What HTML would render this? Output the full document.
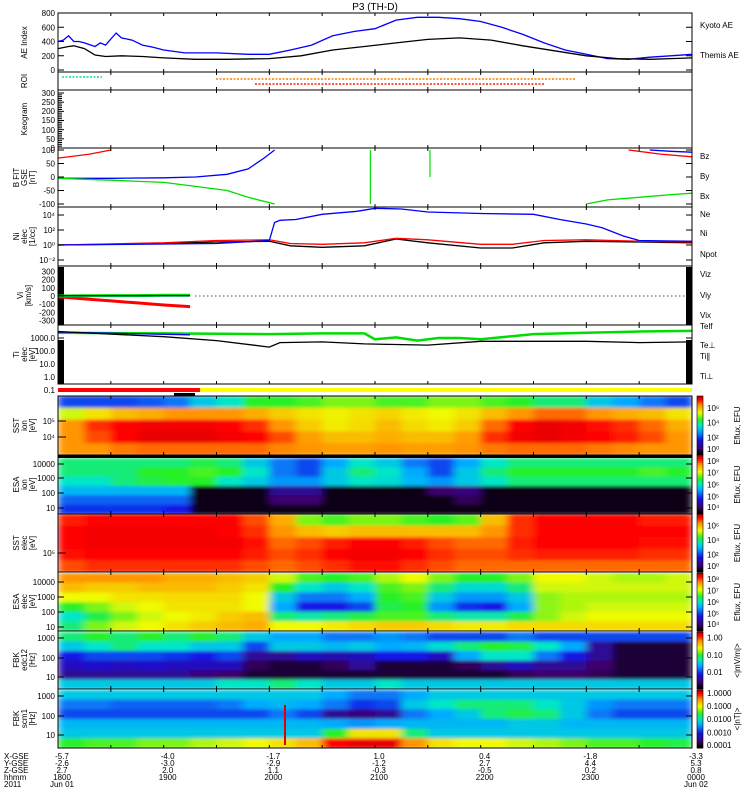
<!DOCTYPE html>
<html><head><meta charset="utf-8">
<style>
html,body{margin:0;padding:0;background:#fff;}
svg{display:block;font-family:"Liberation Sans",sans-serif;}
text{font-size:8px;fill:#000;}
</style></head>
<body>
<svg id="chart" width="750" height="800" viewBox="0 0 750 800" xmlns="http://www.w3.org/2000/svg">
<defs><filter id="blur" x="-5%" y="-5%" width="110%" height="110%"><feGaussianBlur stdDeviation="4 1.5" edgeMode="duplicate"/></filter></defs>
<text x="375" y="10" text-anchor="middle" style="font-size:10px">P3 (TH-D)</text>
</svg>
<script>
// ---------- data ----------
const aeKyotoT=[0,.05,.1,.15,.2,.25,.35,.4,.45,.55,.6,.7,.8,.9,1.0,1.2,1.5,1.8,2.0,2.2,2.4,2.6,2.8,3.0,3.2,3.4,3.6,3.8,4.0,4.2,4.4,4.6,4.8,5.0,5.2,5.4,5.6,5.8,6.0];
const aeKyotoV=[400,420,480,400,400,380,330,380,350,520,450,420,350,320,280,240,240,220,220,280,350,480,540,580,700,740,740,720,680,600,500,380,280,220,160,150,180,200,220];
const aeThemisT=[0,.1,.15,.25,.35,.45,.6,.8,1.0,1.3,1.6,2.0,2.3,2.6,2.9,3.2,3.5,3.8,4.1,4.4,4.7,5.0,5.3,5.6,5.8,6.0];
const aeThemisV=[300,330,340,300,210,190,200,190,170,150,150,160,200,280,330,380,430,450,420,340,270,200,160,150,160,170];
const bzT1=[0,.3,.5], bzV1=[70,85,100];
const bzT2=[5.4,5.7,6.0], bzV2=[100,85,75];
const bxT1=[0,.5,1.0,1.3,1.6,1.8,1.95,2.05], bxV1=[-5,-5,-3,0,10,30,70,100];
const bxT2=[5.6,5.8,6.0], bxV2=[100,95,92];
const byT1=[0,.5,1.0,1.3,1.6,1.8,2.05], byV1=[-5,-12,-20,-35,-50,-75,-100];
const byT2=[5.0,5.2,5.5,5.8,6.0], byV2=[-100,-85,-75,-65,-60];
const bySpikeT=[2.956,3.52], bySpikeLo=[-100,0];
const neT=[0,1.5,2.0,2.05,2.1,2.25,2.5,2.83,3.0,3.25,3.5,4.0,4.5,4.75,5.0,5.15,5.35,5.5,6.0];
const neLog=[0,.2,.6,3.0,3.3,3.4,4.1,4.5,4.9,4.8,4.4,4.2,4.1,3.4,2.8,2.3,1.2,.6,.5];
const niT=[0,1.0,1.5,2.0,2.2,2.5,2.9,3.2,3.5,4.0,4.3,4.6,5.0,5.5,6.0];
const niLog=[0,.3,.6,.7,.2,.1,.3,.9,.7,.1,.1,.6,.7,.5,.4];
const npotLog=[0,.2,.4,.5,-.1,-.3,-.1,.8,.3,-.4,-.4,.3,.5,.4,.3];
const viT=[0,.25,.5,.75,1.0,1.25];
const vizV=[-10,-35,-60,-85,-110,-130];
const viyV=[0,2,5,5,8,10];
const vixV=[5,5,5,5,5,5];
const teT=[0,1,2,2.5,2.9,3.0,3.2,3.4,3.6,3.8,4.0,4.5,5.0,5.5,6.0];
const teLog=[3.4,3.35,3.3,3.35,3.35,2.9,3.05,2.8,3.0,3.0,2.9,3.3,3.4,3.5,3.55];
const telfT=[0,.5,1,1.5,2.0,2.1,2.5,2.9,3.2,3.5,4.0,4.5,5.0,5.5,6.0];
const telfLog=[3.5,3.3,3.1,2.8,2.3,2.65,2.7,2.55,2.5,2.45,2.75,2.75,2.75,2.65,2.7];
const tiT=[0,1.25], tiLog=[3.45,3.25];
const sstIon=[
[.3,.3,.3,.32,.35,.45,.5,.6,.6,.62,.65,.65,.62,.62,.65,.65,.62,.6,.55,.55,.45,.4,.35,.3],
[.7,.75,.8,.82,.85,.85,.85,.82,.78,.75,.73,.75,.77,.74,.72,.75,.8,.85,.88,.88,.85,.82,.8,.75],
[.85,.92,.95,.96,.96,.96,.95,.92,.85,.78,.74,.76,.8,.76,.74,.78,.88,.95,.97,.96,.94,.92,.88,.82],
[.85,.9,.95,.97,.97,.97,.96,.95,.9,.84,.8,.8,.82,.8,.8,.84,.92,.96,.97,.96,.95,.93,.9,.85],
[.85,.85,.87,.88,.88,.88,.88,.88,.86,.85,.84,.84,.85,.84,.84,.85,.87,.88,.88,.88,.87,.86,.85,.85]];
const esaIon=[
[.55,.55,.55,.55,.55,.58,.55,.45,.35,.3,.4,.5,.45,.35,.3,.4,.5,.55,.55,.55,.55,.55,.55,.55],
[.55,.55,.55,.6,.6,.62,.6,.5,.35,.3,.45,.55,.5,.4,.3,.45,.55,.6,.6,.6,.6,.6,.62,.6],
[.5,.5,.55,.58,.6,.6,.5,.45,.38,.38,.45,.5,.48,.42,.38,.45,.5,.55,.55,.55,.55,.55,.55,.55],
[.42,.42,.42,.42,.42,.02,.02,.02,.15,.15,.02,.02,.02,.02,.1,.12,.02,.02,.02,.02,.02,.02,.02,.02],
[.33,.33,.33,.33,.33,.02,.02,.02,.1,.1,.02,.02,.02,.02,.02,.08,.02,.02,.02,.02,.02,.02,.02,.02],
[.28,.28,.28,.28,.25,.02,.02,.02,.02,.02,.02,.02,.02,.02,.02,.02,.02,.02,.02,.02,.02,.02,.02,.02]];
const sstElec=[
[.93,.95,.95,.95,.95,.95,.95,.9,.82,.65,.62,.65,.65,.62,.6,.63,.8,.92,.95,.95,.95,.95,.93,.93],
[.95,.96,.96,.96,.96,.96,.95,.92,.85,.8,.78,.8,.8,.8,.8,.8,.85,.92,.95,.95,.95,.95,.95,.95],
[.95,.96,.96,.96,.96,.96,.96,.94,.88,.9,.93,.95,.95,.93,.9,.88,.88,.93,.95,.95,.95,.95,.94,.94],
[.94,.95,.95,.95,.95,.95,.95,.93,.9,.92,.95,.96,.96,.95,.92,.9,.9,.92,.93,.93,.93,.93,.92,.92],
[.9,.92,.92,.92,.92,.92,.92,.9,.88,.9,.92,.94,.94,.92,.9,.88,.88,.88,.88,.88,.88,.88,.88,.88]];
const esaElec=[
[.85,.85,.85,.85,.82,.82,.8,.78,.7,.62,.6,.62,.68,.72,.65,.6,.6,.65,.72,.72,.7,.68,.68,.7],
[.8,.78,.78,.8,.8,.8,.78,.75,.6,.5,.45,.5,.62,.65,.55,.48,.48,.55,.7,.7,.7,.7,.7,.7],
[.72,.72,.75,.75,.76,.76,.76,.72,.45,.35,.35,.4,.6,.62,.45,.38,.38,.45,.66,.68,.68,.68,.68,.68],
[.6,.65,.7,.72,.75,.75,.75,.72,.4,.25,.25,.3,.58,.6,.38,.28,.25,.4,.66,.68,.7,.7,.7,.7],
[.5,.58,.65,.7,.72,.74,.78,.8,.55,.52,.55,.58,.62,.62,.55,.52,.52,.58,.66,.7,.72,.72,.72,.72],
[.55,.65,.7,.72,.75,.78,.8,.82,.72,.72,.74,.76,.78,.78,.76,.74,.74,.76,.76,.76,.76,.76,.76,.76]];
const fbkEdc=[
[.55,.6,.55,.6,.55,.6,.55,.45,.4,.4,.35,.35,.38,.35,.3,.3,.3,.35,.3,.3,.3,.3,.3,.3],
[.45,.5,.55,.5,.5,.45,.45,.3,.45,.45,.42,.45,.4,.42,.48,.55,.6,.58,.5,.4,.15,.05,.05,.05],
[.25,.3,.3,.3,.28,.25,.3,.15,.15,.2,.18,.2,.25,.25,.2,.4,.5,.5,.35,.25,.15,.05,.05,.05],
[.2,.22,.2,.22,.2,.2,.2,.08,.05,.05,.08,.15,.05,.05,.05,.08,.15,.2,.15,.15,.1,.05,.05,.05],
[.15,.15,.15,.15,.15,.12,.1,.05,.05,.05,.05,.05,.05,.05,.05,.05,.05,.08,.1,.1,.08,.05,.05,.05],
[.45,.45,.45,.45,.45,.45,.5,.5,.55,.5,.45,.45,.5,.45,.45,.45,.45,.45,.45,.45,.45,.45,.45,.45]];
const fbkScm=[
[.45,.45,.45,.45,.45,.45,.45,.45,.45,.45,.4,.35,.35,.4,.45,.45,.45,.45,.45,.45,.45,.45,.45,.45],
[.35,.35,.33,.33,.33,.33,.35,.4,.42,.4,.35,.28,.3,.45,.5,.55,.55,.55,.5,.45,.38,.35,.35,.35],
[.3,.3,.3,.3,.3,.3,.3,.3,.35,.3,.15,.12,.15,.35,.4,.45,.55,.58,.55,.45,.35,.3,.3,.3],
[.42,.42,.42,.42,.42,.42,.42,.42,.42,.42,.4,.38,.4,.42,.42,.42,.42,.45,.45,.42,.42,.42,.42,.42],
[.45,.45,.45,.45,.45,.45,.45,.45,.45,.45,.6,.75,.75,.55,.45,.45,.45,.45,.45,.45,.45,.45,.45,.45],
[.6,.62,.62,.65,.65,.68,.7,.72,.75,.8,.95,.97,.97,.85,.75,.72,.72,.7,.68,.65,.62,.62,.6,.58]];
const hourLabels=['1800','1900','2000','2100','2200','2300','0000'];
const xgse=['-5.7','-4.0','-1.7','1.0','0.4','-1.8','-3.3'];
const ygse=['-2.6','-3.0','-2.9','-1.2','2.7','4.4','5.3'];
const zgse=['2.7','2.0','1.1','-0.3','-0.5','0.2','0.8'];

// ---------- helpers ----------
const S=document.getElementById('chart');
const NS='http://www.w3.org/2000/svg';
const X0=58,X1=692;
const xs=t=>X0+(X1-X0)*t/6;
function mk(tag,attrs,parent){const e=document.createElementNS(NS,tag);for(const k in attrs)e.setAttribute(k,attrs[k]);(parent||S).appendChild(e);return e;}
function txt(x,y,s,attrs){const e=mk('text',Object.assign({x:x,y:y},attrs||{}));e.textContent=s;return e;}
const stops=[[0,[0,0,0]],[.1,[60,0,110]],[.25,[20,20,230]],[.4,[0,170,255]],[.5,[0,230,200]],[.6,[40,240,40]],[.72,[240,250,0]],[.85,[255,150,0]],[.95,[255,0,0]],[1,[200,0,0]]];
function cmap(v){v=Math.max(0,Math.min(1,v));for(let i=1;i<stops.length;i++){if(v<=stops[i][0]){const a=stops[i-1],b=stops[i],f=(v-a[0])/(b[0]-a[0]);const c=a[1].map((q,j)=>Math.round(q+(b[1][j]-q)*f));return 'rgb('+c.join(',')+')';}}return 'rgb(200,0,0)';}
function poly(T,V,ys,color,name,clipTop,clipBot){const pts=T.map((t,i)=>xs(t).toFixed(1)+','+Math.max(clipTop,Math.min(clipBot,ys(V[i]))).toFixed(1)).join(' ');const p=mk('polyline',{points:pts,fill:'none',stroke:color,'stroke-width':1.3});


return p;}
function frame(y0,y1,name){const r=mk('rect',{x:X0,y:y0,width:X1-X0,height:y1-y0,fill:'none',stroke:'#000','stroke-width':1});


for(let k=0;k<=12;k++){const x=xs(k/2);mk('line',{x1:x,x2:x,y1:y1,y2:y1-3,stroke:'#000'});mk('line',{x1:x,x2:x,y1:y0,y2:y0+3,stroke:'#000'});}}
function ytitle(y0,y1,lines,name){const cy=(y0+y1)/2;const g=mk('g',{});


lines.forEach((s,i)=>{const x=27+i*8-(lines.length-1)*4;const t=mk('text',{x:x,y:cy,transform:'rotate(-90 '+x+' '+cy+')','text-anchor':'middle'},g);t.textContent=s;});}
function yticks(list){list.forEach(([y,s])=>{mk('line',{x1:X0,x2:X0+6,y1:y,y2:y,stroke:'#000'});mk('line',{x1:X1,x2:X1-6,y1:y,y2:y,stroke:'#000'});txt(X0-3,y+3,s,{'text-anchor':'end'});});}
function rlabel(y,s,c){const t=txt(700,y,s,{fill:c});

}
let clipN=0;
function spectro(grid,y0,y1,name){clipN++;const cp=mk('clipPath',{id:'cp'+clipN});mk('rect',{x:X0,y:y0,width:X1-X0,height:y1-y0},cp);
const outer=mk('g',{'clip-path':'url(#cp'+clipN+')'});
const g=mk('g',{filter:'url(#blur)'},outer);


const nr=grid.length,nc=grid[0].length,rh=(y1-y0)/nr;
grid.forEach((row,r)=>row.forEach((v,c)=>{mk('rect',{x:xs(c*6/nc).toFixed(2),y:(y0+r*rh).toFixed(2),width:((X1-X0)/nc+0.6).toFixed(2),height:(rh+0.5).toFixed(2),fill:cmap(v)},g);}));}
function cbar(y0,y1,labels,title,name){const n=30;const g=mk('g',{});


for(let i=0;i<n;i++){mk('rect',{x:697,y:y0+(y1-y0)*i/n,width:6,height:(y1-y0)/n+0.5,fill:cmap(1-i/(n-1))},g);}
mk('rect',{x:697,y:y0,width:6,height:y1-y0,fill:'none',stroke:'#000','stroke-width':.6},g);
labels.forEach(([f,s])=>{const t=mk('text',{x:707,y:y0+(y1-y0)*f+3},g);t.textContent=s;});
const cx=740,cy=(y0+y1)/2;const t=mk('text',{x:cx,y:cy,transform:'rotate(-90 '+cx+' '+cy+')','text-anchor':'middle'},g);t.textContent=title;}

// ---------- AE panel ----------
const aeY=v=>70-v*57/800;
poly(aeKyotoT,aeKyotoV,aeY,'#0000ff','kyoto-ae-line',13,70);
poly(aeThemisT,aeThemisV,aeY,'#000','themis-ae-line',13,70);
frame(13,72,'ae-index-panel');
yticks([[aeY(800),'800'],[aeY(600),'600'],[aeY(400),'400'],[aeY(200),'200'],[aeY(0),'0']]);
ytitle(13,72,['AE Index'],'ae-index-axis-title');
rlabel(28,'Kyoto AE','#0000ff');rlabel(58,'Themis AE','#000');

// ---------- ROI ----------
frame(72,90,'roi-panel');
mk('line',{x1:62,x2:102,y1:77,y2:77,stroke:'#00e0a0','stroke-width':1.5,'stroke-dasharray':'2,1.5'});
mk('line',{x1:216,x2:575,y1:79,y2:79,stroke:'#ff8000','stroke-width':1.5,'stroke-dasharray':'2,1.5'});
mk('line',{x1:255,x2:545,y1:84,y2:84,stroke:'#ff2000','stroke-width':1.5,'stroke-dasharray':'2,1.5'});
ytitle(72,90,['ROI'],'roi-axis-title');

// ---------- Keogram ----------
frame(90,148,'keogram-panel');
for(let i=0;i<=30;i++){const y=93+i*(148-93)/30;mk('line',{x1:X0,x2:X0+(i%5==0?6:4),y1:y,y2:y,stroke:'#000'});}
[[93,'300'],[102,'250'],[111,'200'],[120,'150'],[130,'100'],[139,'50'],[148,'0']].forEach(([y,s])=>txt(X0-3,y+3,s,{'text-anchor':'end'}));
ytitle(90,148,['Keogram'],'keogram-axis-title');

// ---------- B field ----------
const bY=v=>177-v*0.27;
poly(bzT1,bzV1,bY,'#ff0000','bz-line',149,206);poly(bzT2,bzV2,bY,'#ff0000','bz-line-late',149,206);
poly(bxT1,bxV1,bY,'#0000ff','bx-line',149,206);poly(bxT2,bxV2,bY,'#0000ff','bx-line-late',149,206);
poly(byT1,byV1,bY,'#00dd00','by-line',149,206);poly(byT2,byV2,bY,'#00dd00','by-line-late',149,206);
bySpikeT.forEach((t,i)=>{const l=mk('line',{x1:xs(t),x2:xs(t),y1:bY(100),y2:bY(bySpikeLo[i]),stroke:'#00dd00','stroke-width':1.2});

});
frame(148,207,'b-field-panel');
yticks([[bY(100),'100'],[bY(50),'50'],[bY(0),'0'],[bY(-50),'-50'],[bY(-100),'-100']]);
ytitle(148,207,['B FIT','GSE','[nT]'],'b-field-axis-title');
rlabel(159,'Bz','#ff0000');rlabel(179,'By','#00c000');rlabel(199,'Bx','#0000ff');

// ---------- Density ----------
const nY=l=>245-7.5*l;
poly(niT,npotLog,nY,'#000','npot-line',208,265);
poly(niT,niLog,nY,'#ff0000','ni-line',208,265);
poly(neT,neLog,nY,'#0000ff','ne-line',208,265);
frame(207,266,'density-panel');
yticks([[nY(4),'10⁴'],[nY(2),'10²'],[nY(0),'10⁰'],[nY(-2),'10⁻²']]);
ytitle(207,266,['Ni','elec','[1/cc]'],'density-axis-title');
rlabel(217,'Ne','#ff0000');rlabel(236,'Ni','#000');rlabel(257,'Npot','#0000ff');

// ---------- Velocity ----------
const vY=v=>296-v*0.0817;
mk('rect',{x:58,y:267,width:6,height:58,fill:'#000'});
mk('rect',{x:686,y:267,width:6,height:58,fill:'#000'});
mk('line',{x1:xs(1.3),x2:X1,y1:vY(0),y2:vY(0),stroke:'#000','stroke-dasharray':'1,3'});
const vz=poly(viT,vizV,vY,'#ff0000','viz-line',267,324);vz.setAttribute('stroke-width',3);
const vyl=poly(viT,viyV,vY,'#00dd00','viy-line',267,324);vyl.setAttribute('stroke-width',3);
poly(viT,vixV,vY,'#0000ff','vix-line',267,324);
frame(266,325,'velocity-panel');
yticks([[vY(300),'300'],[vY(200),'200'],[vY(100),'100'],[vY(0),'0'],[vY(-100),'-100'],[vY(-200),'-200'],[vY(-300),'-300']]);
ytitle(266,325,['Vi','[km/s]'],'velocity-axis-title');
rlabel(277,'Viz','#ff0000');rlabel(298,'Viy','#00c000');rlabel(318,'Vix','#0000ff');

// ---------- Temperature ----------
const tY=l=>338+13*(3-l);
mk('rect',{x:58,y:340,width:6,height:44,fill:'#000'});
mk('rect',{x:686,y:340,width:6,height:44,fill:'#000'});
const tel=poly(teT,teLog,tY,'#00dd00','te-line',326,383);tel.setAttribute('stroke-width',2.5);
poly(tiT,tiLog,tY,'#0000ff','ti-line',326,383);
poly(telfT,telfLog,tY,'#000','telf-line',326,383);
frame(325,384,'temperature-panel');
yticks([[tY(3),'1000.0'],[tY(2),'100.0'],[tY(1),'10.0'],[tY(0),'1.0'],[tY(-1),'0.1']]);
ytitle(325,384,['Ti','elec','[eV]'],'temperature-axis-title');
rlabel(329,'Telf','#000');rlabel(348,'Te⊥','#ff0000');rlabel(359,'Ti∥','#00c000');rlabel(379,'Ti⊥','#0000ff');

// ---------- mode bars ----------
mk('rect',{x:58,y:388,width:142,height:4,fill:'#ff0000'});
mk('rect',{x:200,y:388,width:492,height:4,fill:'#ffff00'});
mk('rect',{x:174,y:393,width:21,height:3,fill:'#000'});

// ---------- spectrograms ----------
spectro(sstIon,396,455,'sst-ion-spectrogram');frame(396,455,'sst-ion-panel');
spectro(esaIon,458,514,'esa-ion-spectrogram');mk('rect',{x:X0,y:455,width:X1-X0,height:3,fill:'#000'});frame(455,514,'esa-ion-panel');
spectro(sstElec,514,572,'sst-elec-spectrogram');frame(514,572,'sst-elec-panel');
spectro(esaElec,573,631,'esa-elec-spectrogram');frame(572,631,'esa-elec-panel');
spectro(fbkEdc,632,689,'fbk-edc12-spectrogram');frame(631,689,'fbk-edc12-panel');
spectro(fbkScm,690,748,'fbk-scm1-spectrogram');
mk('line',{x1:285,x2:285,y1:705,y2:745,stroke:'#e00000','stroke-width':2});
frame(689,748,'fbk-scm1-panel');
[[437,'10⁴'],[421,'10⁵']].forEach(([y,s])=>{mk('line',{x1:X0,x2:X0+8,y1:y,y2:y,stroke:'#000'});txt(X0-3,y+3,s,{'text-anchor':'end'});});
yticks([[464,'10000'],[478,'1000'],[493,'100'],[508,'10']]);
[[553,'10⁵']].forEach(([y,s])=>{mk('line',{x1:X0,x2:X0+8,y1:y,y2:y,stroke:'#000'});txt(X0-3,y+3,s,{'text-anchor':'end'});});
yticks([[582,'10000'],[597,'1000'],[612,'100'],[627,'10']]);
yticks([[638,'1000'],[658,'100'],[677,'10']]);
yticks([[696,'1000'],[716,'100'],[735,'10']]);
ytitle(396,455,['SST','ion','[eV]'],'sst-ion-axis-title');
ytitle(455,514,['ESA','ion','[eV]'],'esa-ion-axis-title');
ytitle(514,572,['SST','elec','[eV]'],'sst-elec-axis-title');
ytitle(572,631,['ESA','elec','[eV]'],'esa-elec-axis-title');
ytitle(631,689,['FBK','edc12','[Hz]'],'fbk-edc12-axis-title');
ytitle(689,748,['FBK','scm1','[Hz]'],'fbk-scm1-axis-title');
cbar(396,455,[[.2,'10⁶'],[.45,'10⁴'],[.7,'10²'],[.9,'10⁰']],'Eflux, EFU','sst-ion-colorbar');
cbar(455,514,[[.1,'10⁸'],[.3,'10⁷'],[.5,'10⁶'],[.7,'10⁵'],[.88,'10⁴']],'Eflux, EFU','esa-ion-colorbar');
cbar(514,572,[[.2,'10⁶'],[.45,'10⁴'],[.7,'10²'],[.9,'10⁰']],'Eflux, EFU','sst-elec-colorbar');
cbar(573,631,[[.1,'10⁸'],[.3,'10⁷'],[.5,'10⁶'],[.7,'10⁵'],[.88,'10⁴']],'Eflux, EFU','esa-elec-colorbar');
cbar(632,689,[[.1,'1.00'],[.4,'0.10'],[.7,'0.01']],'<|mV/m|>','fbk-edc12-colorbar');
cbar(690,748,[[.05,'1.0000'],[.28,'0.1000'],[.5,'0.0100'],[.73,'0.0010'],[.95,'0.0001']],'<|nT|>','fbk-scm1-colorbar');

// ---------- bottom axis labels ----------
const rows=[['X-GSE',xgse,759],['Y-GSE',ygse,766],['Z-GSE',zgse,773],['hhmm',hourLabels,780]];
rows.forEach(([lab,arr,y])=>{const t=txt(4,y,lab);


arr.forEach((s,i)=>{const e=txt(xs(i)+4,y,s,{'text-anchor':'middle'});

});});
txt(4,787,'2011');txt(xs(0)+4,787,'Jun 01',{'text-anchor':'middle'});txt(xs(6)+4,787,'Jun 02',{'text-anchor':'middle'});
</script>
</body></html>
